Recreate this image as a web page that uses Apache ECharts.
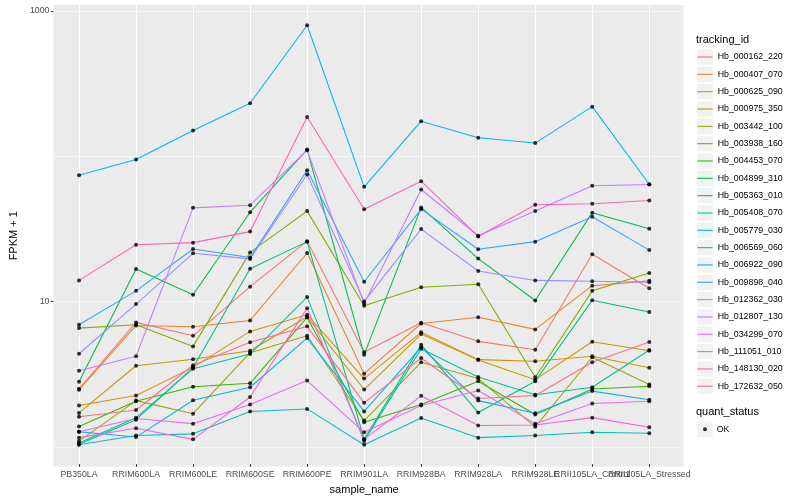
<!DOCTYPE html>
<html>
<head>
<meta charset="utf-8">
<script src="https://cdn.jsdelivr.net/npm/echarts@6.0.0/dist/echarts.min.js"></script>
<style>
html,body{margin:0;padding:0;background:#fff;}
#chart{width:800px;height:500px;}
</style>
</head>
<body>
<div id="chart"></div>
<script>
// ---------- data ----------
const categories = ['PB350LA','RRIM600LA','RRIM600LE','RRIM600SE','RRIM600PE','RRIM901LA','RRIM928BA','RRIM928LA','RRIM928LE','RRII105LA_Control','RRII105LA_Stressed'];

const trackingIds = ['Hb_000162_220','Hb_000407_070','Hb_000625_090','Hb_000975_350','Hb_003442_100','Hb_003938_160','Hb_004453_070','Hb_004899_310','Hb_005363_010','Hb_005408_070','Hb_005779_030','Hb_006569_060','Hb_006922_090','Hb_009898_040','Hb_012362_030','Hb_012807_130','Hb_034299_070','Hb_111051_010','Hb_148130_020','Hb_172632_050'];

const Hb_000162_220 = [2.44, 7.02, 5.67, 12.4, 25.6, 4.36, 6.97, 5.19, 4.54, 20.8, 12.1];
const Hb_000407_070 = [2.40, 6.69, 6.54, 7.24, 21.2, 3.10, 6.90, 7.63, 6.28, 12.6, 13.6];
const Hb_000625_090 = [1.87, 2.19, 3.43, 6.08, 7.92, 2.87, 5.99, 3.88, 3.78, 4.09, 3.41];
const Hb_000975_350 = [1.66, 3.52, 3.90, 4.47, 7.67, 2.41, 5.83, 3.85, 2.82, 5.16, 4.47];
const Hb_003442_100 = [1.06, 2.02, 1.64, 4.33, 5.67, 1.47, 3.72, 2.87, 1.33, 4.03, 2.61];
const Hb_003938_160 = [6.41, 6.76, 4.79, 21.4, 41.3, 9.14, 12.3, 12.9, 2.93, 11.6, 15.4];
const Hb_004453_070 = [1.34, 2.00, 2.52, 2.66, 7.60, 1.43, 1.90, 2.75, 1.62, 2.43, 2.54];
const Hb_004899_310 = [2.73, 16.4, 10.9, 40.6, 110, 4.20, 43.8, 19.4, 9.95, 40.3, 31.2];
const Hb_005363_010 = [1.01, 1.49, 3.42, 16.5, 25.4, 1.09, 4.92, 1.67, 2.75, 10.0, 8.27];
const Hb_005408_070 = [1.03, 1.54, 3.36, 4.24, 10.5, 1.06, 4.61, 2.94, 2.22, 2.50, 4.52];
const Hb_005779_030 = [1.00, 1.16, 1.19, 1.70, 1.77, 1.00, 1.53, 1.12, 1.16, 1.22, 1.20];
const Hb_006569_060 = [73.1, 93.8, 149, 230, 797, 60.8, 173, 133, 122, 218, 63.4];
const Hb_006922_090 = [1.23, 1.13, 2.03, 2.50, 5.47, 1.70, 4.72, 2.02, 1.65, 2.35, 2.05];
const Hb_009898_040 = [6.76, 11.6, 22.6, 19.7, 79.2, 13.4, 42.6, 22.5, 25.4, 37.8, 22.2];
const Hb_012362_030 = [4.26, 9.39, 21.1, 19.3, 74.0, 9.80, 31.0, 15.9, 13.7, 13.5, 13.3];
const Hb_012807_130 = [3.25, 4.09, 43.5, 45.4, 109, 9.49, 58.3, 27.9, 41.3, 61.8, 63.1];
const Hb_034299_070 = [1.23, 1.52, 1.40, 1.90, 2.78, 1.22, 1.87, 2.37, 1.40, 1.93, 2.00];
const Hb_111051_010 = [1.12, 1.30, 1.09, 2.14, 8.81, 1.09, 2.18, 1.36, 1.37, 1.54, 1.32];
const Hb_148130_020 = [13.7, 24.2, 25.0, 29.8, 185, 42.6, 66.5, 27.6, 45.7, 46.4, 48.9];
const Hb_172632_050 = [1.56, 1.74, 3.55, 5.11, 6.59, 1.95, 3.98, 2.09, 2.19, 3.72, 5.13];

const seriesValues = [Hb_000162_220, Hb_000407_070, Hb_000625_090, Hb_000975_350, Hb_003442_100,
  Hb_003938_160, Hb_004453_070, Hb_004899_310, Hb_005363_010, Hb_005408_070, Hb_005779_030,
  Hb_006569_060, Hb_006922_090, Hb_009898_040, Hb_012362_030, Hb_012807_130, Hb_034299_070,
  Hb_111051_010, Hb_148130_020, Hb_172632_050];

const yTickLabels = [10, 1000];
const quantStatus = ['OK'];

// ---------- styling ----------
const colors = ['#F8766D','#EA8331','#D89000','#C09B00','#A3A500','#7CAE00','#39B600','#00BB4E','#00BF7D','#00C1A3','#00BFC4','#00BAE0','#00B0F6','#35A2FF','#9590FF','#C77CFF','#E76BF3','#FA62DB','#FF62BC','#FF6C91'];
const FONT = '"Liberation Sans", Arial, Helvetica, sans-serif';

const PANEL_L = 44.8, PANEL_R = 683.5, PANEL_T = 5, PANEL_B = 466.5;
const nCat = categories.length;
const step = (PANEL_R - PANEL_L) / (nCat - 1 + 1.2);
const Y_MIN = 0.735, Y_MAX = 1100;

const KEY_X = 697.3, KEY_Y0 = 49.3, KEY_STEP = 17.33, KEY_SIZE = 15.4;

const chart = echarts.init(document.getElementById('chart'), null, {renderer: 'canvas'});

const lineSeries = trackingIds.map((id, i) => ({
  name: id,
  type: 'line',
  xAxisIndex: 1,
  yAxisIndex: 2,
  data: seriesValues[i],
  symbol: 'none',
  showSymbol: false,
  lineStyle: {color: colors[i], width: 1.07},
  itemStyle: {color: colors[i]},
  emphasis: {disabled: true},
  silent: true,
  z: 3
}));

const pointData = [];
seriesValues.forEach(vals => vals.forEach((v, j) => pointData.push([categories[j], v])));

const keyRects = [];
trackingIds.forEach((id, i) => keyRects.push({
  type: 'rect', silent: true, z: 1,
  shape: {x: KEY_X, y: KEY_Y0 + KEY_STEP * i, width: KEY_SIZE, height: KEY_SIZE},
  style: {fill: '#F2F2F2'}
}));
keyRects.push({
  type: 'rect', silent: true, z: 1,
  shape: {x: KEY_X, y: 421.7, width: KEY_SIZE, height: KEY_SIZE},
  style: {fill: '#F2F2F2'}
});

const option = {
  animation: false,
  backgroundColor: '#ffffff',
  textStyle: {fontFamily: FONT},
  grid: [
    {left: PANEL_L, top: PANEL_T, width: PANEL_R - PANEL_L, height: PANEL_B - PANEL_T,
     show: true, backgroundColor: '#EBEBEB', borderWidth: 0, containLabel: false},
    {left: PANEL_L + 0.6 * step, top: PANEL_T, width: step * (nCat - 1), height: PANEL_B - PANEL_T,
     show: false, containLabel: false}
  ],
  xAxis: [
    {gridIndex: 0, type: 'value', min: 0, max: 1, show: false},
    {gridIndex: 1, type: 'category', data: categories, boundaryGap: false,
     axisLine: {show: false},
     axisTick: {show: true, length: 2.7, interval: 0, lineStyle: {color: '#333333', width: 1.07}},
     axisLabel: {interval: 0, color: '#4D4D4D', fontSize: 8.8, margin: 6, hideOverlap: false, fontFamily: FONT},
     splitLine: {show: true, interval: 0, lineStyle: {color: '#FFFFFF', width: 1.07}},
     name: 'sample_name', nameLocation: 'middle', nameGap: 16,
     nameTextStyle: {color: '#000000', fontSize: 11, fontFamily: FONT}}
  ],
  yAxis: [
    {gridIndex: 0, type: 'log', logBase: 10, min: Y_MIN, max: Y_MAX, position: 'left',
     name: 'FPKM + 1', nameLocation: 'middle', nameGap: 26.5, nameRotate: 90,
     nameTextStyle: {color: '#000000', fontSize: 11, fontFamily: FONT},
     axisLine: {show: false},
     axisTick: {show: true, length: 2.7, customValues: yTickLabels, lineStyle: {color: '#333333', width: 1.07}},
     axisLabel: {show: true, customValues: yTickLabels, color: '#4D4D4D', fontSize: 8.8, margin: 4, fontFamily: FONT,
       formatter: v => (Math.abs(v - 10) < 1e-6 ? '10' : (Math.abs(v - 1000) < 1e-3 ? '1000' : ''))},
     splitLine: {show: true, showMinLine: false, showMaxLine: false, lineStyle: {color: '#FFFFFF', width: 1.07}}},
    {gridIndex: 0, type: 'log', logBase: 10, min: Y_MIN, max: Y_MAX, position: 'left',
     axisLine: {show: false}, axisTick: {show: false}, axisLabel: {show: false},
     splitLine: {show: true, showMinLine: false, showMaxLine: false, lineStyle: {color: '#FFFFFF', width: 0.53}}},
    {gridIndex: 1, type: 'log', logBase: 10, min: Y_MIN, max: Y_MAX, show: false}
  ],
  legend: [
    {data: trackingIds, orient: 'vertical', left: KEY_X, top: 48.33, padding: 0, itemGap: 0,
     itemWidth: KEY_SIZE, itemHeight: 1.1, icon: 'rect', selectedMode: false,
     textStyle: {fontSize: 8.8, color: '#000000', lineHeight: KEY_STEP, fontFamily: FONT}},
    {data: quantStatus, orient: 'vertical', left: KEY_X + KEY_SIZE / 2 - 2, top: 429.3 - 7.5, padding: 0,
     itemWidth: 4, itemHeight: 4, icon: 'circle', selectedMode: false,
     textStyle: {fontSize: 8.8, color: '#000000', lineHeight: 15, fontFamily: FONT, padding: [0, 0, 0, 4.7]}}
  ],
  graphic: [
    {type: 'text', left: 696, top: 34.5, silent: true,
     style: {text: 'tracking_id', fill: '#000000', font: '11px ' + FONT}},
    {type: 'text', left: 696, top: 406.5, silent: true,
     style: {text: 'quant_status', fill: '#000000', font: '11px ' + FONT}},
    ...keyRects
  ],
  series: [
    ...lineSeries,
    {name: 'OK', type: 'scatter', xAxisIndex: 1, yAxisIndex: 2, data: pointData,
     symbol: 'circle', symbolSize: 4, itemStyle: {color: '#000000'},
     emphasis: {disabled: true}, silent: true, z: 5}
  ]
};

chart.setOption(option);
</script>
</body>
</html>
